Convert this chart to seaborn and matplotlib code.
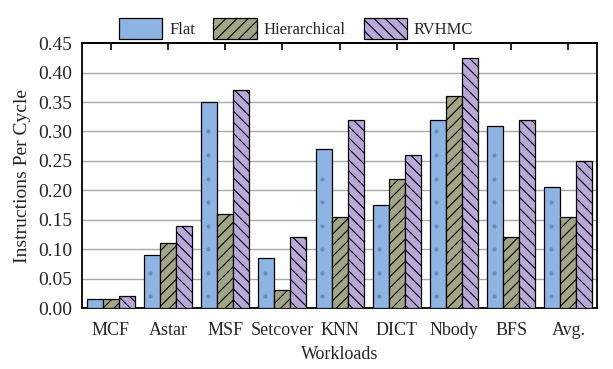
import numpy as np
import pandas as pd
import matplotlib
matplotlib.use("Agg")
import matplotlib.pyplot as plt
from matplotlib.ticker import MultipleLocator, FixedLocator, NullLocator
from matplotlib.patches import Patch
import seaborn as sns

workloads = ["MCF", "Astar", "MSF", "Setcover", "KNN", "DICT", "Nbody", "BFS", "Avg."]
flat = [0.015, 0.09, 0.35, 0.085, 0.27, 0.175, 0.32, 0.31, 0.205]
hierarchical = [0.015, 0.11, 0.16, 0.03, 0.155, 0.22, 0.36, 0.12, 0.155]
rvhmc = [0.02, 0.14, 0.37, 0.12, 0.32, 0.26, 0.425, 0.32, 0.25]
series_names = ["Flat", "Hierarchical", "RVHMC"]
y_ticks = [0.00, 0.05, 0.10, 0.15, 0.20, 0.25, 0.30, 0.35, 0.40, 0.45]

df = pd.DataFrame({
    "Workload": workloads * 3,
    "IPC": flat + hierarchical + rvhmc,
    "Scheme": [s for s in series_names for _ in workloads],
})

sns.set_theme(style="white")
plt.rcParams["font.family"] = ["Liberation Serif", "DejaVu Serif"]
plt.rcParams["hatch.linewidth"] = 0.8

colors = ["#8db4e2", "#a2a686", "#b9a8d8"]
hatches = ["", "///", "\\\\\\"]

fig = plt.figure(figsize=(6.13, 3.69), dpi=100)
ax = fig.add_axes([0.134, 0.165, 0.840, 0.718])

sns.barplot(data=df, x="Workload", y="IPC", hue="Scheme", palette=colors,
            width=0.84, gap=0, edgecolor="black", linewidth=0.9,
            saturation=1, legend=False, ax=ax, zorder=3)

for container, h in zip(ax.containers, hatches):
    for bar in container:
        bar.set_hatch(h)

# sparse dot texture on the Flat bars
for bar in ax.containers[0]:
    xc = bar.get_x() + bar.get_width() * 0.4
    top = bar.get_height()
    ys = np.arange(0.02, top - 0.01, 0.04)
    ax.scatter(np.full(len(ys), xc), ys, s=9, color="#4f6a8f",
               alpha=0.55, zorder=4, linewidths=0)

ax.set_ylim(0, 0.45)
ax.set_xlim(-0.5, len(workloads) - 0.5)
ax.yaxis.set_major_locator(FixedLocator(y_ticks))
ax.yaxis.set_minor_locator(MultipleLocator(0.025))
ax.set_yticklabels([f"{v:.2f}" for v in y_ticks])
ax.xaxis.set_minor_locator(FixedLocator(np.arange(-0.5, len(workloads), 1.0)))

for y in y_ticks[1:-1]:
    ax.axhline(y, color="#a8a8a8", linewidth=1.0, zorder=1)

ax.tick_params(axis="x", which="major", labelsize=13, direction="out",
               length=5, width=1.2, color="black", pad=5)
ax.tick_params(axis="y", which="major", labelsize=14, direction="out",
               length=5, width=1.2, color="black", pad=2)
ax.tick_params(axis="both", which="minor", direction="out", length=3,
               width=1.0, color="black")

# inward ticks along the top edge
top_axis = ax.secondary_xaxis("top")
top_axis.set_xticks(range(len(workloads)))
top_axis.xaxis.set_minor_locator(NullLocator())
top_axis.tick_params(direction="in", length=5, width=1.2, color="black",
                     labeltop=False)
top_axis.spines["top"].set_linewidth(1.3)

for s in ax.spines.values():
    s.set_color("black")
    s.set_linewidth(1.3)

ax.set_xlabel("Workloads", fontsize=13, labelpad=5)
ax.set_ylabel("Instructions Per Cycle", fontsize=14, labelpad=5)

handles = [Patch(facecolor=c, edgecolor="black", hatch=h, linewidth=0.9)
           for c, h in zip(colors, hatches)]
fig.legend(handles, series_names, loc="upper center", ncol=3,
           bbox_to_anchor=(0.483, 0.993), frameon=False, fontsize=12,
           handlelength=2.6, handleheight=1.6, columnspacing=1.1,
           handletextpad=0.4)

fig.savefig("out.png", dpi=100)
